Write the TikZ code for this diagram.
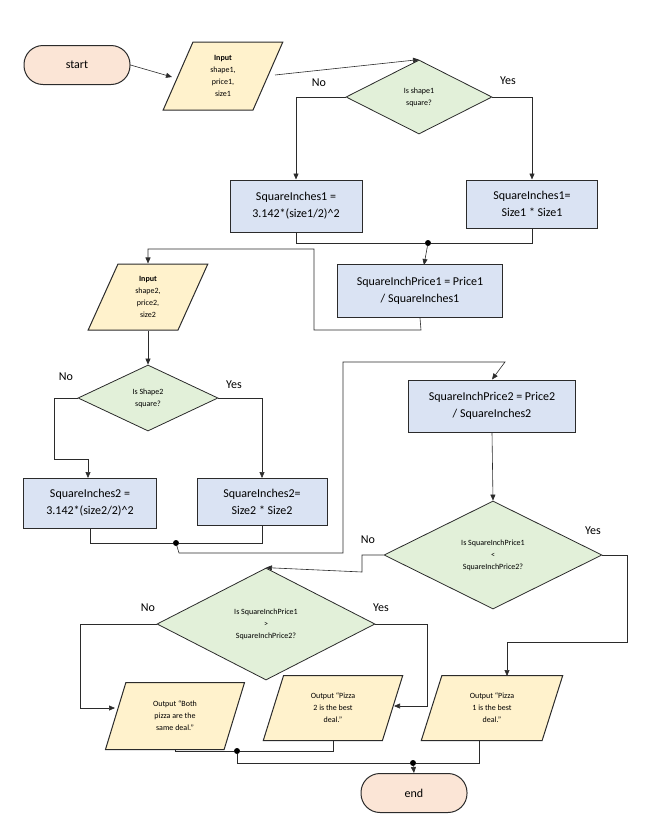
\documentclass[tikz,border=0pt]{standalone}
\usepackage{fontspec}
\setmainfont{Carlito}
\usetikzlibrary{shapes.geometric,arrows.meta}
\definecolor{termc}{HTML}{FBE5D6}
\definecolor{ioc}{HTML}{FFF2CC}
\definecolor{decc}{HTML}{E2F0D9}
\definecolor{procc}{HTML}{DAE3F3}
\definecolor{edge}{HTML}{2B2B2B}
\begin{document}
\begin{tikzpicture}[x=1pt,y=-1pt,
  term/.style={draw=edge,line width=1pt,fill=termc,rounded corners=19pt,minimum width=106pt,minimum height=39pt,font=\fontsize{12}{14}\selectfont},
  io/.style={trapezium,trapezium stretches=true,trapezium left angle=73,trapezium right angle=107,draw=edge,line width=1pt,fill=ioc,inner sep=0pt,align=center,font=\fontsize{8}{12}\selectfont},
  dec/.style={diamond,draw=edge,line width=0.8pt,fill=decc,inner sep=0pt,align=center,font=\fontsize{8}{12}\selectfont},
  proc/.style={rectangle,draw=edge,line width=1pt,fill=procc,align=center,font=\fontsize{12}{17}\selectfont},
  lab/.style={font=\fontsize{12}{14}\selectfont},
  con/.style={draw=edge,line width=0.6pt},
  arr/.style={con,-{Triangle[length=6pt,width=5pt]}},
  dot/.style={circle,fill=black,inner sep=0pt,minimum size=6pt}]
\useasboundingbox (0,0) rectangle (653,833);
\node[term] (start) at (77,65) {start};
\node[io,minimum width=120pt,minimum height=68pt] (in1) at (223,76) {\textbf{Input}\\shape1,\\price1,\\size1};
\node[dec,minimum width=146pt,minimum height=74pt] (d1) at (419,97) {Is shape1\\square?};
\node[lab] at (319,83) {No};
\node[lab] at (508,81) {Yes};
\node[proc,minimum width=132pt,minimum height=52pt] (p1a) at (296,206) {SquareInches1 =\\3.142*(size1/2)\textasciicircum 2};
\node[proc,minimum width=131pt,minimum height=48pt] (p1b) at (532,204) {SquareInches1=\\Size1 * Size1};
\node[dot] (j1) at (428,243) {};
\node[proc,minimum width=165pt,minimum height=53pt] (sp1) at (420,291) {SquareInchPrice1 = Price1\\/ SquareInches1};
\node[io,minimum width=120pt,minimum height=66pt] (in2) at (148,297) {\textbf{Input}\\shape2,\\price2,\\size2};
\node[dec,minimum width=140pt,minimum height=66pt] (d2) at (148,398) {Is Shape2\\square?};
\node[lab] at (66,377) {No};
\node[lab] at (234,385) {Yes};
\node[proc,minimum width=133pt,minimum height=50pt] (p2a) at (90,503) {SquareInches2 =\\3.142*(size2/2)\textasciicircum 2};
\node[proc,minimum width=130pt,minimum height=47pt] (p2b) at (262,502) {SquareInches2=\\Size2 * Size2};
\node[dot] (j2) at (176,543) {};
\node[proc,minimum width=167pt,minimum height=52pt] (sp2) at (492,406) {SquareInchPrice2 = Price2\\/ SquareInches2};
\node[dec,minimum width=218pt,minimum height=108pt] (d3) at (493,555) {Is SquareInchPrice1\\<\\SquareInchPrice2?};
\node[lab] at (368,540) {No};
\node[lab] at (593,531) {Yes};
\node[dec,minimum width=218pt,minimum height=112pt] (d4) at (266,624) {Is SquareInchPrice1\\>\\SquareInchPrice2?};
\node[lab] at (148,608) {No};
\node[lab] at (381,608) {Yes};
\node[io,minimum width=140pt,minimum height=67pt] (o1) at (175,716) {Output “Both\\pizza are the\\same deal.”};
\node[io,minimum width=140pt,minimum height=65pt] (o2) at (333,708) {Output “Pizza\\2 is the best\\deal.”};
\node[io,minimum width=142pt,minimum height=65pt] (o3) at (492,708) {Output “Pizza\\1 is the best\\deal.”};
\node[dot] (j3) at (237,751) {};
\node[dot] (j4) at (413,763) {};
\node[term] (end) at (414,793) {end};
\coordinate (in1w) at (172,77);
\coordinate (in1e) at (275,75);
\coordinate (o1w) at (115,708);
\coordinate (o2e) at (394,706);
% connectors
\draw[arr] (start.east) -- (in1w);
\draw[arr] (in1e) -- (d1.north);
\draw[arr] (d1.west) -| (p1a.north);
\draw[arr] (d1.east) -| (p1b.north);
\draw[con] (p1a.south) |- (j1) -| (p1b.south);
\draw[arr] (j1) -- (424,265);
\draw[arr] (sp1.south) -- (421,330) -- (314,330) -- (314,249) -| (in2.north);
\draw[arr] (in2.south) -- (d2.north);
\draw[arr] (d2.west) -- (54,398) -- (54,459) -- (88,459) -- (88,478);
\draw[arr] (d2.east) -| (p2b.north);
\draw[con] (p2a.south) |- (j2) -| (p2b.south);
\draw[arr] (j2) -- (179,553) -- (343,553) -- (343,362) -- (505,362) -- (sp2.north);
\draw[arr] (sp2.south) -- (d3.north);
\draw[arr] (d3.west) -- (362,555) -- (362,572) -- (d4.north);
\draw[arr] (d3.east) -- (627,555) -- (627,642) -- (507,642) -- (507,676);
\draw[arr] (d4.west) -- (80,624) -- (80,708) -- (o1w);
\draw[arr] (d4.east) -- (427,624) -- (427,706) -- (o2e);
\draw[con] (o1.south) |- (j3) -| (o2.south);
\draw[con] (j3) |- (j4);
\draw[con] (479,740) |- (j4);
\draw[arr] (j4) -- (end.north);
\end{tikzpicture}
\end{document}
